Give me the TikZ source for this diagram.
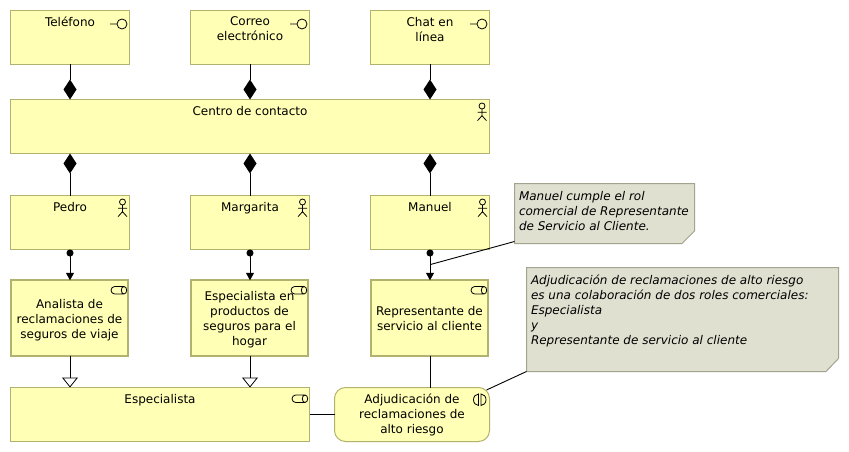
\documentclass[tikz,border=0pt]{standalone}
\usepackage{fontspec}
\setmainfont{DejaVu Sans}
\usetikzlibrary{arrows.meta}
\definecolor{elemfill}{HTML}{FFFFB5}
\definecolor{elemline}{HTML}{B2B26F}
\definecolor{notefill}{HTML}{E0E0D1}
\definecolor{noteline}{HTML}{A3A38F}
\tikzset{
  x=1pt,y=-1pt,
  every node/.style={font=\fontsize{12}{15}\selectfont,inner sep=0pt,outer sep=0pt,text=black},
  box/.style={draw=elemline,fill=elemfill,line width=1pt,minimum width=119pt,minimum height=54pt,anchor=north west},
  widebox/.style={box,minimum width=479pt},
  spbox/.style={box,minimum width=299pt},
  rolebox/.style={draw=elemline,fill=elemfill,line width=2pt,minimum width=116.4pt,minimum height=75.4pt,anchor=north west},
  collab/.style={box,minimum width=155pt,rounded corners=11pt},
  lbl/.style={anchor=north,align=center},
  notelbl/.style={anchor=north west,align=left,font=\fontsize{12}{15}\selectfont\itshape},
  notebody/.style={draw=noteline,fill=notefill,line width=1pt},
  conn/.style={draw=black,line width=1pt},
  comptop/.style={conn,-{Diamond[length=20pt,width=13pt,fill=black]}},
  compbot/.style={conn,{Diamond[length=20pt,width=13pt,fill=black]}-},
  realize/.style={conn,{Circle[length=7pt,width=7pt,fill=black]}-{Triangle[length=7.5pt,width=8pt,fill=black]}},
  special/.style={conn,-{Triangle[length=10pt,width=16pt,fill=white,open,line width=.8pt]}},
  icon/.style={draw=black,line width=.8pt},
}
\newcommand{\ifaceicon}[2]{\draw[icon] (#1-12,#2+4) -- (#1-5,#2+4) (#1,#2+4) circle (5);}
\newcommand{\actoricon}[2]{\draw[icon] (#1,#2) circle (3) (#1,#2+3) -- (#1,#2+9.7) (#1-4.5,#2+6.3) -- (#1+4.5,#2+6.3) (#1-4.5,#2+14.7) -- (#1,#2+9.7) -- (#1+4.5,#2+14.7);}
\newcommand{\roleicon}[2]{\draw[icon] (#1+13,#2) -- (#1+3.75,#2) arc (-90:-270:3.75) -- (#1+13,#2+7.5) (#1+13,#2) arc (-90:90:2.7 and 3.75) arc (90:270:2.7 and 3.75);}
\begin{document}
\begin{tikzpicture}
\useasboundingbox (0,0) rectangle (849,452);
% boxes
\node[box] (tel) at (10.5,10.5) {};
\node[box] (cor) at (190.5,10.5) {};
\node[box] (cha) at (370.5,10.5) {};
\node[widebox] (cc) at (10.5,99.5) {};
\node[box] (ped) at (10.5,195.5) {};
\node[box] (mar) at (190.5,195.5) {};
\node[box] (man) at (370.5,195.5) {};
\node[rolebox] (ana) at (11.3,280.3) {};
\node[rolebox] (esp) at (191.3,280.3) {};
\node[rolebox] (rep) at (371.3,280.3) {};
\node[spbox] (spc) at (10.5,387.5) {};
\node[collab] (adj) at (334.5,387.5) {};
% connectors
\draw[comptop] (tel.south) -- (tel.south |- cc.north);
\draw[comptop] (cor.south) -- (cor.south |- cc.north);
\draw[comptop] (cha.south) -- (cha.south |- cc.north);
\draw[compbot] (ped.north |- cc.south) -- (ped.north);
\draw[compbot] (mar.north |- cc.south) -- (mar.north);
\draw[compbot] (man.north |- cc.south) -- (man.north);
\draw[realize] (ped.south) -- (ped.south |- ana.north);
\draw[realize] (mar.south) -- (mar.south |- esp.north);
\draw[realize] (man.south) -- (man.south |- rep.north);
\draw[special] (ped.south |- ana.south) -- (ped.south |- spc.north);
\draw[special] (mar.south |- esp.south) -- (mar.south |- spc.north);
\draw[conn] (man.south |- rep.south) -- (man.south |- adj.north);
\draw[conn] (spc.east) -- (adj.west);
% notes
\draw[notebody] (514.5,183.5) -- (694.5,183.5) -- (694.5,231) -- (682,243.5) -- (514.5,243.5) coordinate (n1bl) -- cycle;
\draw[notebody] (526.5,267.5) -- (838.5,267.5) -- (838.5,358.5) -- (826,371.5) -- (526.5,371.5) coordinate (n2bl) -- cycle;
\coordinate (n1end) at (430.5,264.5);
\coordinate (n2end) at (486.5,390);
\draw[conn,line width=.9pt] (n1bl) ++(0,-2) -- (n1end);
\draw[conn,line width=.9pt] (n2bl) -- (n2end);
% texts
\node[lbl] (t1) at (70,17) {Teléfono};
\node[lbl] (t2) at (250,17) {Correo\\electrónico};
\node[lbl] (t3) at (430,17) {Chat en\\línea};
\node[lbl] (t4) at (250,106) {Centro de contacto};
\node[lbl] (t5) at (70,202) {Pedro};
\node[lbl] (t6) at (250,202) {Margarita};
\node[lbl] (t7) at (430,202) {Manuel};
\node[lbl] (t8) at (69.5,299) {Analista de\\reclamaciones de\\seguros de viaje};
\node[lbl] (t9) at (249.5,291) {Especialista en\\productos de\\seguros para el\\hogar};
\node[lbl] (t10) at (429.5,306.5) {Representante de\\servicio al cliente};
\node[lbl] (t11) at (160,394) {Especialista};
\node[lbl] (t12) at (412,394) {Adjudicación de\\reclamaciones de\\alto riesgo};
\node[notelbl] (t13) at (519,191) {Manuel cumple el rol\\comercial de Representante\\de Servicio al Cliente.};
\node[notelbl] (t14) at (531,274.5) {Adjudicación de reclamaciones de alto riesgo\\es una colaboración de dos roles comerciales:\\Especialista\\y\\Representante de servicio al cliente};
% icons
\ifaceicon{122}{20}
\ifaceicon{302}{20}
\ifaceicon{482}{20}
\actoricon{482}{106}
\actoricon{122.5}{202}
\actoricon{302.5}{202}
\actoricon{482.5}{202}
\roleicon{111}{286.5}
\roleicon{291}{286.5}
\roleicon{471}{286.5}
\roleicon{292}{395}
\draw[icon] (478.5,394) arc (-90:-270:5 and 5.75) -- cycle (481,394) arc (-90:90:5 and 5.75) -- cycle;
\end{tikzpicture}
\end{document}
